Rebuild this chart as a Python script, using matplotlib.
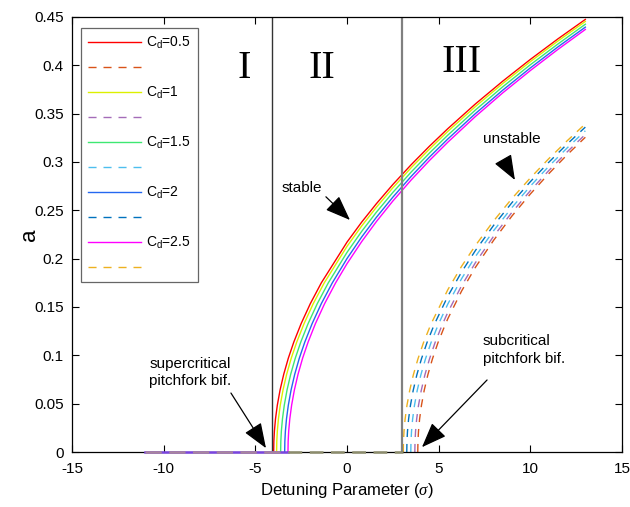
import numpy as np
import matplotlib
matplotlib.use("Agg")
import matplotlib.pyplot as plt

plt.rcParams['font.family'] = ['Liberation Sans', 'DejaVu Sans']
plt.rcParams['mathtext.fontset'] = 'custom'
plt.rcParams['mathtext.rm'] = 'Liberation Sans'
plt.rcParams['mathtext.it'] = 'Liberation Serif:italic'
plt.rcParams['axes.unicode_minus'] = False

# ---- data ----
cd_labels = ['0.5', '1', '1.5', '2', '2.5']

# stable non-trivial branches (solid), Cd = 0.5 ... 2.5
stab_sig = [
    [-4.00, -3.99, -3.96, -3.90, -3.80, -3.65, -3.45, -3.20, -2.90, -2.50, -2.00, -1.40,
     0.0, 0.8, 1.6, 2.5, 3.5, 4.5, 5.5, 7.0, 8.5, 10.0, 11.5, 13.0],
    [-3.84, -3.83, -3.80, -3.74, -3.64, -3.49, -3.29, -3.04, -2.74, -2.34, -1.84, -1.24,
     0.0, 0.8, 1.6, 2.5, 3.5, 4.5, 5.5, 7.0, 8.5, 10.0, 11.5, 13.0],
    [-3.62, -3.61, -3.58, -3.52, -3.42, -3.27, -3.07, -2.82, -2.52, -2.12, -1.62, -1.02,
     0.0, 0.8, 1.6, 2.5, 3.5, 4.5, 5.5, 7.0, 8.5, 10.0, 11.5, 13.0],
    [-3.40, -3.39, -3.36, -3.30, -3.20, -3.05, -2.85, -2.60, -2.30, -1.90, -1.40, -0.80,
     0.0, 0.8, 1.6, 2.5, 3.5, 4.5, 5.5, 7.0, 8.5, 10.0, 11.5, 13.0],
    [-3.22, -3.21, -3.18, -3.12, -3.02, -2.87, -2.67, -2.42, -2.12, -1.72, -1.22, -0.62,
     0.0, 0.8, 1.6, 2.5, 3.5, 4.5, 5.5, 7.0, 8.5, 10.0, 11.5, 13.0],
]
stab_a = [
    [0, .0109, .0217, .0343, .0485, .0642, .0805, .0971, .1138, .1329, .1535, .1750,
     .2171, .2378, .2568, .2767, .2972, .3164, .3345, .3600, .3837, .4061, .4273, .4475],
    [0, .0109, .0217, .0343, .0485, .0642, .0805, .0971, .1138, .1329, .1535, .1750,
     .2127, .2338, .2531, .2733, .2941, .3134, .3317, .3573, .3813, .4038, .4251, .4454],
    [0, .0109, .0217, .0343, .0485, .0642, .0805, .0971, .1138, .1329, .1535, .1750,
     .2065, .2282, .2480, .2685, .2896, .3093, .3278, .3537, .3779, .4006, .4220, .4425],
    [0, .0109, .0217, .0343, .0485, .0642, .0805, .0971, .1138, .1329, .1535, .1750,
     .2001, .2224, .2427, .2636, .2851, .3051, .3238, .3500, .3744, .3973, .4190, .4395],
    [0, .0109, .0217, .0343, .0485, .0642, .0805, .0971, .1138, .1329, .1535, .1750,
     .1948, .2176, .2383, .2596, .2814, .3016, .3205, .3470, .3716, .3946, .4164, .4371],
]

# unstable non-trivial branches (dashed), Cd = 0.5 ... 2.5
unst_sig = [
    [3.86, 3.87, 3.90, 3.96, 4.06, 4.21, 4.41, 4.66, 4.96, 5.36, 5.5, 6.25, 7, 8, 9, 10, 11, 12, 13],
    [3.70, 3.71, 3.74, 3.80, 3.90, 4.05, 4.25, 4.50, 4.80, 5.20, 5.5, 6.25, 7, 8, 9, 10, 11, 12, 13],
    [3.48, 3.49, 3.52, 3.58, 3.68, 3.83, 4.03, 4.28, 4.58, 4.98, 5.5, 6.25, 7, 8, 9, 10, 11, 12, 13],
    [3.26, 3.27, 3.30, 3.36, 3.46, 3.61, 3.81, 4.06, 4.36, 4.76, 5.5, 6.25, 7, 8, 9, 10, 11, 12, 13],
    [3.07, 3.08, 3.11, 3.17, 3.27, 3.42, 3.62, 3.87, 4.17, 4.57, 5.5, 6.25, 7, 8, 9, 10, 11, 12, 13],
]
unst_a = [
    [0, .0108, .0215, .0341, .0482, .0637, .0799, .0963, .1130, .1319,
     .1379, .1665, .1909, .2191, .2442, .2669, .2878, .3073, .3256],
    [0, .0108, .0215, .0341, .0482, .0637, .0799, .0963, .1130, .1319,
     .1445, .1720, .1957, .2233, .2480, .2703, .2910, .3103, .3285],
    [0, .0108, .0215, .0341, .0482, .0637, .0799, .0963, .1130, .1319,
     .1531, .1793, .2021, .2290, .2530, .2750, .2954, .3144, .3323],
    [0, .0108, .0215, .0341, .0482, .0637, .0799, .0963, .1130, .1319,
     .1612, .1862, .2083, .2345, .2580, .2796, .2996, .3184, .3361],
    [0, .0108, .0215, .0341, .0482, .0637, .0799, .0963, .1130, .1319,
     .1679, .1921, .2135, .2391, .2623, .2835, .3033, .3218, .3394],
]

# trivial branch a=0
triv_stab_sig = [-11.0, -3.22]
triv_unst_sig = [-3.22, 3.07]

boundary_sig = [-4.09, 2.98]

stab_cols = ['#ff0000', '#dcf000', '#3ee872', '#2468f0', '#ff00ff']
unst_cols = ['#d95319', '#a46cb8', '#4dbeee', '#0072bd', '#edb120']

# ---- figure ----
fig = plt.figure(figsize=(6.3, 5.07), dpi=100)
ax = fig.add_axes([72/630, 55/507, 550/630, 435/507])

ax.plot(triv_stab_sig, [0, 0], color='#7a44e0', lw=1.8, zorder=5, clip_on=False)
ax.plot(triv_stab_sig, [0, 0], color='#a8849e', lw=1.8, ls=(0, (6.5, 3)), zorder=5, clip_on=False)
ax.plot(triv_unst_sig, [0, 0], color='#8c8c6c', lw=1.8, ls=(0, (5.5, 3)), zorder=5, clip_on=False)

handles = []
labels = []
for i in range(5):
    h1, = ax.plot(stab_sig[i], stab_a[i], color=stab_cols[i], lw=1.0)
    h2, = ax.plot(unst_sig[i], unst_a[i], color=unst_cols[i], lw=1.0, ls=(0, (5.8, 5)))
    handles += [h1, h2]
    labels += ['C$_{\\rm d}$=' + cd_labels[i], ' ']

ax.axvline(boundary_sig[0], color='#333333', lw=1.0)
ax.axvline(boundary_sig[1], color='#808080', lw=1.6)

ax.set_xlim(-15, 15)
ax.set_ylim(0, 0.45)
ax.set_xticks(np.arange(-15, 16, 5))
ax.set_yticks(np.arange(0, 0.451, 0.05))
ax.set_yticklabels(['0', '0.05', '0.1', '0.15', '0.2', '0.25', '0.3', '0.35', '0.4', '0.45'])
ax.tick_params(direction='in', top=True, right=True, length=5, labelsize=11, width=0.8)
ax.tick_params(axis='x', pad=7)
ax.tick_params(axis='y', pad=6)
for s in ax.spines.values():
    s.set_linewidth(0.9)
ax.set_xlabel('Detuning Parameter ($\\mathit{\\sigma}$)', fontsize=12, labelpad=4)
ax.set_ylabel('a', fontsize=16)
ax.yaxis.set_label_coords(-0.058, 0.5)

serif = ['Liberation Serif', 'DejaVu Serif']
ax.text(-5.62, 0.397, 'I', family=serif, fontsize=29, ha='center', va='center')
ax.text(-1.36, 0.397, 'II', family=serif, fontsize=29, ha='center', va='center')
ax.text(6.27, 0.403, 'III', family=serif, fontsize=29, ha='center', va='center')

arr = dict(arrowstyle='-|>,head_length=1.3,head_width=0.5', color='k', lw=0.9,
           mutation_scale=12, shrinkA=0, shrinkB=0)
ax.annotate('', xy=(-4.42, 0.004), xytext=(-6.33, 0.061), arrowprops=arr)
ax.text(-8.56, 0.082, 'supercritical\npitchfork bif.', fontsize=11, ha='center', va='center',
        linespacing=1.3)
ax.annotate('', xy=(4.09, 0.005), xytext=(7.64, 0.0745), arrowprops=arr)
ax.text(7.42, 0.1055, 'subcritical\npitchfork bif.', fontsize=11, ha='left', va='center',
        linespacing=1.3)
ax.annotate('', xy=(0.16, 0.240), xytext=(-1.15, 0.264), arrowprops=arr)
ax.text(-2.45, 0.273, 'stable', fontsize=11, ha='center', va='center')
ax.annotate('', xy=(9.16, 0.2814), xytext=(8.78, 0.294), arrowprops=arr)
ax.text(9.0, 0.324, 'unstable', fontsize=11, ha='center', va='center')

leg = ax.legend(handles, labels, loc='upper left', bbox_to_anchor=(0.016, 0.975),
                borderaxespad=0, fontsize=10, handlelength=3.8, labelspacing=0.72,
                fancybox=False, framealpha=1, edgecolor='#666666', borderpad=0.5,
                handletextpad=0.4)
leg.get_frame().set_linewidth(0.9)

fig.savefig('out.png', dpi=100)
